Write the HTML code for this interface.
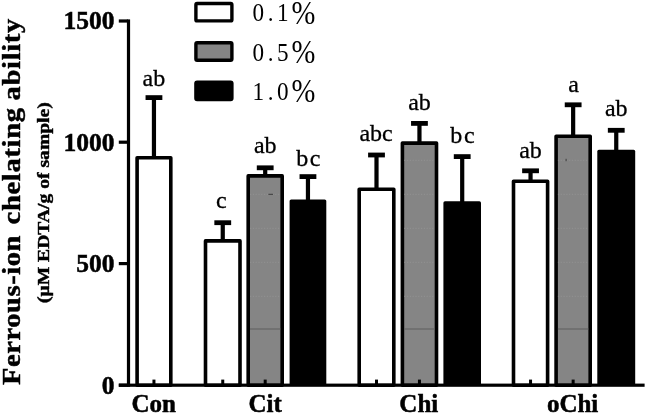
<!DOCTYPE html>
<html><head><meta charset="utf-8"><title>Ferrous-ion chelating ability</title>
<style>
html,body{margin:0;padding:0;background:#fff;}
svg{display:block;}
text{font-family:"Liberation Serif","DejaVu Serif",serif;fill:#000;}
.b{font-weight:bold;stroke:#000;stroke-width:0.5px;}
.l{font-size:24px;text-anchor:middle;stroke:#000;stroke-width:0.3px;}
</style></head><body>
<svg width="646" height="413" viewBox="0 0 646 413">
<rect width="646" height="413" fill="#fff"/>

<!-- con -->
<rect x="151.85" y="97.60" width="4.2" height="60.40" fill="#000"/>
<rect x="145.55" y="95.20" width="16.8" height="4.8" fill="#000"/>
<rect x="137.10" y="157.80" width="33.70" height="227.40" fill="#fff" stroke="#000" stroke-width="3.6" stroke-linejoin="round"/>
<rect x="152.45" y="379.6" width="3" height="5" fill="#000"/>
<text class="l" x="153.85" y="86.0">ab</text>
<!-- cit1 -->
<rect x="220.65" y="222.70" width="4.2" height="18.40" fill="#000"/>
<rect x="214.35" y="220.30" width="16.8" height="4.8" fill="#000"/>
<rect x="205.50" y="240.90" width="34.50" height="144.30" fill="#fff" stroke="#000" stroke-width="3.6" stroke-linejoin="round"/>
<rect x="221.25" y="379.6" width="3" height="5" fill="#000"/>
<text class="l" x="221.30" y="208.0">c</text>
<!-- cit5 -->
<rect x="263.10" y="167.80" width="4.2" height="8.30" fill="#000"/>
<rect x="256.80" y="165.40" width="16.8" height="4.8" fill="#000"/>
<rect x="248.20" y="175.90" width="34.00" height="209.30" fill="#858585" stroke="#000" stroke-width="3.6" stroke-linejoin="round"/>
<line x1="250.00" y1="296.3" x2="280.40" y2="296.3" stroke="#929292" stroke-width="1" stroke-dasharray="1.2 1.6"/>
<line x1="250.00" y1="262.3" x2="280.40" y2="262.3" stroke="#929292" stroke-width="1" stroke-dasharray="1.2 1.6"/>
<line x1="250.00" y1="228.3" x2="280.40" y2="228.3" stroke="#929292" stroke-width="1" stroke-dasharray="1.2 1.6"/>
<line x1="250.00" y1="194.3" x2="280.40" y2="194.3" stroke="#929292" stroke-width="1" stroke-dasharray="1.2 1.6"/>
<rect x="250.00" y="328.5" width="30.40" height="1" fill="#5e5e5e"/>
<rect x="263.70" y="379.6" width="3" height="5" fill="#000"/>
<text class="l" x="265.25" y="152.9">ab</text>
<rect x="268.4" y="193.8" width="4.6" height="1" fill="#3a3a3a"/>
<!-- cit10 -->
<rect x="305.85" y="176.60" width="4.2" height="24.90" fill="#000"/>
<rect x="299.55" y="174.20" width="16.8" height="4.8" fill="#000"/>
<rect x="289.60" y="199.50" width="36.70" height="185.70" rx="1.6" fill="#000"/>
<text class="l" x="309.15" y="165.9" style="letter-spacing:1.6px">bc</text>
<!-- chi1 -->
<rect x="374.40" y="155.00" width="4.2" height="34.50" fill="#000"/>
<rect x="368.10" y="152.60" width="16.8" height="4.8" fill="#000"/>
<rect x="359.20" y="189.30" width="34.60" height="195.90" fill="#fff" stroke="#000" stroke-width="3.6" stroke-linejoin="round"/>
<rect x="375.00" y="379.6" width="3" height="5" fill="#000"/>
<text class="l" x="376.05" y="140.5">abc</text>
<!-- chi5 -->
<rect x="417.35" y="123.40" width="4.2" height="19.90" fill="#000"/>
<rect x="411.05" y="121.00" width="16.8" height="4.8" fill="#000"/>
<rect x="402.40" y="143.10" width="34.10" height="242.10" fill="#858585" stroke="#000" stroke-width="3.6" stroke-linejoin="round"/>
<line x1="404.20" y1="296.3" x2="434.70" y2="296.3" stroke="#929292" stroke-width="1" stroke-dasharray="1.2 1.6"/>
<line x1="404.20" y1="262.3" x2="434.70" y2="262.3" stroke="#929292" stroke-width="1" stroke-dasharray="1.2 1.6"/>
<line x1="404.20" y1="228.3" x2="434.70" y2="228.3" stroke="#929292" stroke-width="1" stroke-dasharray="1.2 1.6"/>
<line x1="404.20" y1="194.3" x2="434.70" y2="194.3" stroke="#929292" stroke-width="1" stroke-dasharray="1.2 1.6"/>
<line x1="404.20" y1="160.3" x2="434.70" y2="160.3" stroke="#929292" stroke-width="1" stroke-dasharray="1.2 1.6"/>
<rect x="404.20" y="328.5" width="30.50" height="1" fill="#5e5e5e"/>
<rect x="417.95" y="379.6" width="3" height="5" fill="#000"/>
<text class="l" x="419.50" y="110.2">ab</text>
<!-- chi10 -->
<rect x="460.10" y="156.60" width="4.2" height="46.70" fill="#000"/>
<rect x="453.80" y="154.20" width="16.8" height="4.8" fill="#000"/>
<rect x="443.40" y="201.30" width="37.60" height="183.90" rx="1.6" fill="#000"/>
<text class="l" x="463.25" y="143.0" style="letter-spacing:1.6px">bc</text>
<!-- ochi1 -->
<rect x="528.45" y="170.80" width="4.2" height="10.60" fill="#000"/>
<rect x="522.15" y="168.40" width="16.8" height="4.8" fill="#000"/>
<rect x="513.50" y="181.20" width="34.10" height="204.00" fill="#fff" stroke="#000" stroke-width="3.6" stroke-linejoin="round"/>
<rect x="529.05" y="379.6" width="3" height="5" fill="#000"/>
<text class="l" x="530.55" y="158.3">ab</text>
<!-- ochi5 -->
<rect x="571.05" y="104.80" width="4.2" height="31.70" fill="#000"/>
<rect x="564.75" y="102.40" width="16.8" height="4.8" fill="#000"/>
<rect x="556.10" y="136.30" width="34.10" height="248.90" fill="#858585" stroke="#000" stroke-width="3.6" stroke-linejoin="round"/>
<line x1="557.90" y1="296.3" x2="588.40" y2="296.3" stroke="#929292" stroke-width="1" stroke-dasharray="1.2 1.6"/>
<line x1="557.90" y1="262.3" x2="588.40" y2="262.3" stroke="#929292" stroke-width="1" stroke-dasharray="1.2 1.6"/>
<line x1="557.90" y1="228.3" x2="588.40" y2="228.3" stroke="#929292" stroke-width="1" stroke-dasharray="1.2 1.6"/>
<line x1="557.90" y1="194.3" x2="588.40" y2="194.3" stroke="#929292" stroke-width="1" stroke-dasharray="1.2 1.6"/>
<line x1="557.90" y1="160.3" x2="588.40" y2="160.3" stroke="#929292" stroke-width="1" stroke-dasharray="1.2 1.6"/>
<rect x="557.90" y="328.5" width="30.50" height="1" fill="#5e5e5e"/>
<rect x="571.65" y="379.6" width="3" height="5" fill="#000"/>
<text class="l" x="573.50" y="92.0">a</text>
<rect x="565.6" y="158.8" width="1" height="2.4" fill="#3a3a3a"/>
<!-- ochi10 -->
<rect x="614.15" y="130.30" width="4.2" height="21.50" fill="#000"/>
<rect x="607.85" y="127.90" width="16.8" height="4.8" fill="#000"/>
<rect x="597.30" y="149.80" width="37.90" height="235.40" rx="1.6" fill="#000"/>
<text class="l" x="616.25" y="115.5">ab</text>
<!-- axes -->
<rect x="126.9" y="19.4" width="3.2" height="367.4" fill="#000"/>
<rect x="118.8" y="383.6" width="525.8" height="3.2" fill="#000"/>
<rect x="118.8" y="19.4" width="9" height="3.2" fill="#000"/>
<text class="b" x="114.6" y="29.4" font-size="25.5" text-anchor="end">1500</text>
<rect x="118.8" y="140.6" width="9" height="3.2" fill="#000"/>
<text class="b" x="114.6" y="150.6" font-size="25.5" text-anchor="end">1000</text>
<rect x="118.8" y="262.0" width="9" height="3.2" fill="#000"/>
<text class="b" x="114.6" y="272.0" font-size="25.5" text-anchor="end">500</text>
<rect x="118.8" y="383.6" width="9" height="3.2" fill="#000"/>
<text class="b" x="114.6" y="393.6" font-size="25.5" text-anchor="end">0</text>
<text class="b" x="153.8" y="411.6" font-size="25" text-anchor="middle">Con</text>
<text class="b" x="265.2" y="411.6" font-size="25" text-anchor="middle">Cit</text>
<text class="b" x="418.8" y="411.6" font-size="25" text-anchor="middle">Chi</text>
<text class="b" x="572.6" y="411.6" font-size="25" text-anchor="middle">oChi</text>
<rect x="195.9" y="3.5" width="36" height="17.4" rx="1.2" fill="#fff" stroke="#000" stroke-width="3.4"/>
<text transform="translate(252.6,21.3) scale(0.89,1)" font-size="26" style="letter-spacing:3.9px">0.1</text>
<text transform="translate(291.6,23.8) scale(0.83,1)" font-size="34.5">%</text>
<rect x="195.9" y="42.8" width="36" height="17.4" rx="1.2" fill="#858585" stroke="#000" stroke-width="3.4"/>
<text transform="translate(252.6,60.6) scale(0.89,1)" font-size="26" style="letter-spacing:3.9px">0.5</text>
<text transform="translate(291.6,63.1) scale(0.83,1)" font-size="34.5">%</text>
<rect x="195.9" y="82.1" width="36" height="17.4" rx="1.2" fill="#000" stroke="#000" stroke-width="3.4"/>
<text transform="translate(252.6,99.9) scale(0.89,1)" font-size="26" style="letter-spacing:3.9px">1.0</text>
<text transform="translate(291.6,102.4) scale(0.83,1)" font-size="34.5">%</text>
<g class="b" transform="translate(19.8,0) rotate(-90) scale(1,0.875)" font-size="28.6" style="letter-spacing:0.65px">
<text x="-384.9" y="0" style="letter-spacing:0.53px">Ferrous-ion</text>
<text x="-224.4" y="0">chelating</text>
<text x="-100.4" y="0">ability</text>
</g>
<text class="b" transform="translate(49.3,302.9) rotate(-90) scale(1,0.84)" font-size="19.6">(μM EDTA/g of sample)</text>
</svg></body></html>
